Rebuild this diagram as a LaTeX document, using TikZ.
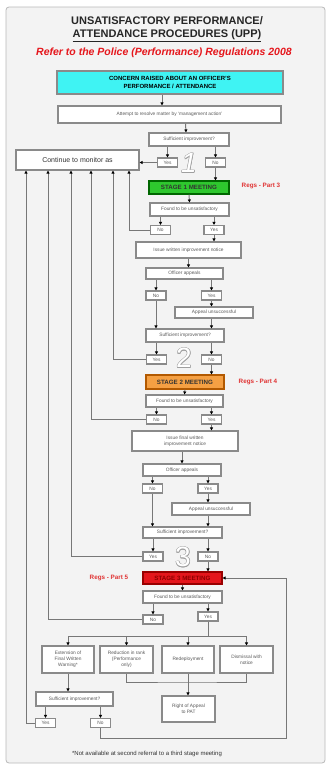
\documentclass[tikz,border=0pt]{standalone}
\usepackage{fontspec}
\setmainfont{Liberation Sans}
\usetikzlibrary{arrows.meta,calc}
\definecolor{lnc}{HTML}{777777}
\definecolor{bdc}{HTML}{8A8A8A}
\definecolor{txc}{HTML}{5A5A5A}
\definecolor{cyc}{HTML}{3FF3F3}
\definecolor{grc}{HTML}{2EC82E}
\definecolor{ogc}{HTML}{F5A043}
\definecolor{rdc}{HTML}{E5161C}
\definecolor{regc}{HTML}{E03434}
\definecolor{bgc}{HTML}{F3F3F3}
\newcommand\bigdig[4]{%
  \foreach \dx/\dy in {0.6/0,-0.6/0,0/0.6,0/-0.6,0.45/0.45,-0.45/0.45,0.45/-0.45,-0.45/-0.45}{%
    \node[text=gray!75,font=\fontsize{28}{28}\selectfont] at ($(#2,#3)+(\dx,\dy)$) {#4};}
  \node[text=white,font=\fontsize{28}{28}\selectfont] (#1) at (#2,#3) {#4};}
\begin{document}
\begin{tikzpicture}[x=1pt,y=-1pt,
  bx/.style={draw=bdc,line width=1.1pt,fill=white,text=txc,font=\fontsize{4.8}{5.8}\selectfont,align=center,inner sep=0pt},
  sz/.style 2 args={minimum width=#1pt,minimum height=#2pt},
  yn/.style={bx,sz={20}{9}},
  stg/.style={bx,font=\bfseries\fontsize{6.2}{7}\selectfont},
  regs/.style={text=regc,font=\bfseries\fontsize{6.3}{7}\selectfont},
  ln/.style={draw=lnc,line width=1pt},
  arr/.style={ln,-{Triangle[length=3pt,width=3pt,color=black]}},
]
\useasboundingbox (0,0) rectangle (329,766);
\draw[draw=gray!55,fill=bgc,line width=0.8pt,rounded corners=3pt] (6,7) rectangle (325,763);

% title
\node[font=\bfseries\fontsize{11}{12.5}\selectfont,text=black!85,align=center] (title) at (167,29)
  {UNSATISFACTORY PERFORMANCE/\\\underline{ATTENDANCE PROCEDURES (UPP)}};
\node[font=\bfseries\itshape\fontsize{10.5}{12}\selectfont,text=rdc] (sub) at (164,53)
  {Refer to the Police (Performance) Regulations 2008};

% top
\node[bx,sz={226}{23},fill=cyc,text=black,font=\bfseries\fontsize{6}{7.5}\selectfont] (cyan) at (170,82.5)
  {CONCERN RAISED ABOUT AN OFFICER'S\\PERFORMANCE / ATTENDANCE};
\node[bx,sz={223}{17}] (attempt) at (169.5,114.5) {Attempt to resolve matter by `management action'};
\node[bx,sz={80}{13}] (suff1) at (189,139.5) {Sufficient improvement?};
\node[yn] (yes1) at (167.5,162.5) {Yes};
\node[yn] (no1) at (215.5,162.5) {No};
\node[bx,sz={123}{20},font=\fontsize{7}{8}\selectfont,text=black!80] (cont) at (77.5,160) {Continue to monitor as};
\bigdig{d1}{189}{163}{\itshape 1}

% stage 1
\node[stg,sz={80}{13},fill=grc,draw=green!40!black,text=black!80] (stage1) at (189,187.5) {STAGE 1 MEETING};
\node[regs] (regs3) at (261,186) {Regs - Part 3};
\node[bx,sz={79}{13}] (found1) at (189.5,209.5) {Found to be unsatisfactory};
\node[yn] (no2) at (160.5,230) {No};
\node[yn] (yes2) at (214,230) {Yes};
\node[bx,sz={105}{16}] (issue1) at (188.5,250) {Issue written improvement notice};
\node[bx,sz={77}{11}] (appeal1) at (184.5,273.5) {Officer appeals};
\node[yn] (noA1) at (156,295.5) {No};
\node[yn] (yesA1) at (211.5,295.5) {Yes};
\node[bx,sz={78}{11}] (unsucc1) at (214,312.5) {Appeal unsuccessful};
\node[bx,sz={78}{13}] (suff2) at (185,335.5) {Sufficient improvement?};
\node[yn] (yes3) at (156.5,359.5) {Yes};
\node[yn] (no3) at (211.5,359.5) {No};
\bigdig{d2}{184}{358}{2}

% stage 2
\node[stg,sz={78}{14},fill=ogc,draw=orange!70!black,text=black!80] (stage2) at (185,382) {STAGE 2 MEETING};
\node[regs] (regs4) at (258,382) {Regs - Part 4};
\node[bx,sz={77}{12}] (found2) at (184.5,401) {Found to be unsatisfactory};
\node[yn] (no4) at (156.5,419.5) {No};
\node[yn] (yes4) at (211.5,419.5) {Yes};
\node[bx,sz={106}{20}] (issue2) at (185,441) {Issue final written\\improvement notice};
\node[bx,sz={78}{12}] (appeal2) at (182,470) {Officer appeals};
\node[yn] (noA2) at (152.5,488.5) {No};
\node[yn] (yesA2) at (208,488.5) {Yes};
\node[bx,sz={78}{12}] (unsucc2) at (211,509) {Appeal unsuccessful};
\node[bx,sz={79}{11}] (suff3) at (182.5,532.5) {Sufficient improvement?};
\node[yn] (yes5) at (153,556.5) {Yes};
\node[yn] (no5) at (208,556.5) {No};
\bigdig{d3}{183}{557}{3}

% stage 3
\node[stg,sz={79}{12},fill=rdc,draw=red!60!black,text=red!55!black] (stage3) at (182.5,578) {STAGE 3 MEETING};
\node[regs] (regs5) at (109,578) {Regs - Part 5};
\node[bx,sz={79}{12}] (found3) at (182.5,597) {Found to be unsatisfactory};
\node[yn] (no6) at (153,619.5) {No};
\node[yn] (yes6) at (208,616.5) {Yes};
\node[bx,sz={52}{27}] (ext) at (68,659.5) {Extension of\\Final Written\\Warning*};
\node[bx,sz={53}{27}] (rank) at (126.5,659.5) {Reduction in rank\\(Performance\\only)};
\node[bx,sz={52}{27}] (redep) at (188,659.5) {Redeployment};
\node[bx,sz={53}{27}] (dism) at (246.5,659.5) {Dismissal with\\notice};
\node[bx,sz={53}{26}] (pat) at (188.5,709) {Right of Appeal\\to PAT};
\node[bx,sz={77}{14}] (suff4) at (74.5,699) {Sufficient improvement?};
\node[yn] (yes7) at (45.5,723) {Yes};
\node[yn] (no7) at (100.5,723) {No};
\node[font=\fontsize{6}{7}\selectfont,text=black!80] (foot) at (147,754) {*Not available at second referral to a third stage meeting};

% connectors
\draw[arr] ([xshift=-8pt]cyan.south) -- ([xshift=-7.5pt]attempt.north);
\draw[arr] ([xshift=16pt]attempt.south) -- ([xshift=-3pt]suff1.north);
\draw[arr] (suff1.south -| yes1) -- (yes1.north);
\draw[arr] (suff1.south -| no1) -- (no1.north);
\draw[arr] (yes1.west) -- (yes1.west -| cont.east);
\draw[arr] (no1.south) -- (no1.south |- stage1.north);
\draw[arr] (stage1.south) -- (found1.north);
\draw[arr] (found1.south -| no2) -- (no2.north);
\draw[arr] (found1.south -| yes2) -- (yes2.north);
\draw[arr] (no2.west) -| ([xshift=51.5pt]cont.south);
\draw[arr] (yes2.south) -- (yes2.south |- issue1.north);
\draw[arr] ([xshift=0pt]issue1.south) -- (issue1.south |- appeal1.north);
\draw[arr] (appeal1.south -| noA1) -- (noA1.north);
\draw[arr] (appeal1.south -| yesA1) -- (yesA1.north);
\draw[arr] (yesA1.south) -- (yesA1.south |- unsucc1.north);
\draw[arr] (noA1.south) -- (noA1.south |- suff2.north);
\draw[arr] (unsucc1.south -| yesA1) -- (suff2.north -| yesA1);
\draw[arr] (suff2.south -| yes3) -- (yes3.north);
\draw[arr] (suff2.south -| no3) -- (no3.north);
\draw[arr] (yes3.west) -| ([xshift=35.5pt]cont.south);
\draw[arr] (no3.south) -- (no3.south |- stage2.north);
\draw[arr] (stage2.south) -- (found2.north);
\draw[arr] (found2.south -| no4) -- (no4.north);
\draw[arr] (found2.south -| yes4) -- (yes4.north);
\draw[arr] (no4.west) -| ([xshift=13.5pt]cont.south);
\draw[arr] (yes4.south) -- (yes4.south |- issue2.north);
\draw[arr] ([xshift=-3pt]issue2.south) -- ([xshift=-3pt]issue2.south |- appeal2.north);
\draw[arr] (appeal2.south -| noA2) -- (noA2.north);
\draw[arr] (appeal2.south -| yesA2) -- (yesA2.north);
\draw[arr] (yesA2.south) -- (yesA2.south |- unsucc2.north);
\draw[arr] (noA2.south) -- (noA2.south |- suff3.north);
\draw[arr] (unsucc2.south -| yesA2) -- (suff3.north -| yesA2);
\draw[arr] (suff3.south -| yes5) -- (yes5.north);
\draw[arr] (suff3.south -| no5) -- (no5.north);
\draw[arr] (yes5.west) -| ([xshift=-6.5pt]cont.south);
\draw[arr] (no5.south) -- (no5.south |- stage3.north);
\draw[arr] (stage3.south) -- (found3.north);
\draw[arr] (found3.south -| no6) -- (no6.north);
\draw[arr] (found3.south -| yes6) -- (yes6.north);
\draw[arr] (no6.west) -| ([xshift=-29.5pt]cont.south);
\coordinate (split) at (208,636);
\draw[ln] (yes6.south) -- (split);
\draw[ln] (split -| ext) -- (split -| dism);
\draw[arr] (split -| ext) -- (ext.north);
\draw[arr] (split -| rank) -- (rank.north);
\draw[arr] (split -| redep) -- (redep.north);
\draw[arr] (split -| dism) -- (dism.north);
\coordinate (join) at (188,682);
\draw[ln] (rank.south) |- (join) -| (dism.south);
\draw[arr] (redep.south) -- (redep.south |- pat.north);
\draw[arr] (ext.south) -- (ext.south |- suff4.north);
\draw[arr] (suff4.south -| yes7) -- (yes7.north);
\draw[arr] (suff4.south -| no7) -- (no7.north);
\draw[arr] (yes7.west) -| ([xshift=-51.5pt]cont.south);
\coordinate (loop) at (286,738);
\draw[arr] (no7.south) |- (loop) |- (stage3.east);
\end{tikzpicture}
\end{document}
